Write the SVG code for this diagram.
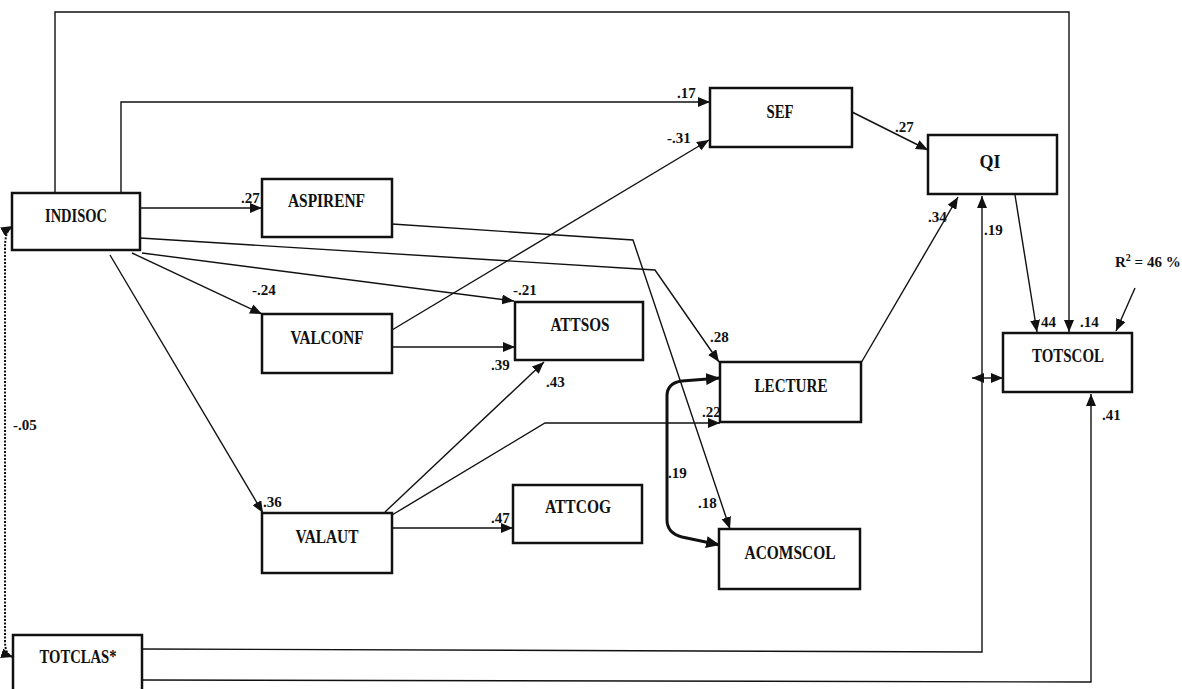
<svg xmlns="http://www.w3.org/2000/svg" width="1182" height="689" viewBox="0 0 1182 689">
<style>
.box{fill:#fff;stroke:#111;stroke-width:2.5}
.lbl{font-family:"Liberation Serif","Times New Roman",serif;font-weight:bold;font-size:19px;fill:#111;text-anchor:middle}
.num{font-family:"Liberation Serif","Times New Roman",serif;font-weight:bold;font-size:15px;fill:#111}
.c{fill:none;stroke:#111;stroke-width:1.4;marker-end:url(#ah)}
.n{fill:none;stroke:#111;stroke-width:1.4}
</style>
<defs>
<marker id="ah" viewBox="0 0 12 10" refX="12" refY="5" markerWidth="12" markerHeight="10" markerUnits="userSpaceOnUse" orient="auto-start-reverse"><path d="M0,0 L12,5 L0,10 z" fill="#111"/></marker>
<marker id="ahb" viewBox="0 0 14 12" refX="14" refY="6" markerWidth="14" markerHeight="12" markerUnits="userSpaceOnUse" orient="auto-start-reverse"><path d="M0,0 L14,6 L0,12 z" fill="#111"/></marker>
</defs>
<rect width="1182" height="689" fill="#fff"/>
<g id="connectors">
<path class="c" d="M55,193 V12 H1069 V332"/>
<path class="c" d="M121,193 V102 H710"/>
<path class="c" d="M140,208 H262"/>
<path class="c" d="M140,238 L655,270 L719,362"/>
<path class="c" d="M142,253 L514,301"/>
<path class="c" d="M132,253 L262,314"/>
<path class="c" d="M110,255 L263,513"/>
<path class="c" d="M392,224 L633,240 L730,529"/>
<path class="c" d="M392,330 L709,140"/>
<path class="c" d="M392,347 H515"/>
<path class="c" d="M385,512 L544,362"/>
<path class="c" d="M392,515 L545,423 H720"/>
<path class="c" d="M392,528 H513"/>
<path class="c" d="M852,112 L928,150"/>
<path class="c" d="M861,363 L958,197"/>
<path class="c" d="M1015,195 L1037,332"/>
<path class="c" d="M142,649 L982,652 V196"/>
<path class="c" d="M142,680 L1091,682 V394"/>
<path class="c" d="M972,378 H1003" style="marker-start:url(#ah)"/>
<path class="c" d="M1135,288 L1116,331"/>
<path d="M720,378 L682,381 Q667,383 667,396 V520 Q667,533 682,537 L720,545" fill="none" stroke="#111" stroke-width="3" marker-start="url(#ahb)" marker-end="url(#ahb)"/>
<path d="M13,226 C6,230 5,238 5,250 V640 C5,650 7,655 13,657" fill="none" stroke="#111" stroke-width="2" stroke-dasharray="2,1.5" marker-start="url(#ah)" marker-end="url(#ah)"/>
</g>
<g id="INDISOC"><rect class="box" x="12" y="193" width="128" height="57"/><text class="lbl" x="76" y="222" textLength="62" lengthAdjust="spacingAndGlyphs">INDISOC</text></g>
<g id="ASPIRENF"><rect class="box" x="262" y="179" width="130" height="58"/><text class="lbl" x="326.5" y="207" textLength="77" lengthAdjust="spacingAndGlyphs">ASPIRENF</text></g>
<g id="SEF"><rect class="box" x="710" y="88" width="142" height="59"/><text class="lbl" x="780" y="118" textLength="27" lengthAdjust="spacingAndGlyphs">SEF</text></g>
<g id="QI"><rect class="box" x="928" y="135" width="129" height="59"/><text class="lbl" x="990" y="168" textLength="21" lengthAdjust="spacingAndGlyphs">QI</text></g>
<g id="VALCONF"><rect class="box" x="262" y="314" width="130" height="59"/><text class="lbl" x="327" y="344" textLength="73" lengthAdjust="spacingAndGlyphs">VALCONF</text></g>
<g id="ATTSOS"><rect class="box" x="515" y="302" width="128" height="58"/><text class="lbl" x="580" y="331" textLength="59" lengthAdjust="spacingAndGlyphs">ATTSOS</text></g>
<g id="LECTURE"><rect class="box" x="720" y="362" width="141" height="60"/><text class="lbl" x="791" y="392" textLength="73" lengthAdjust="spacingAndGlyphs">LECTURE</text></g>
<g id="TOTSCOL"><rect class="box" x="1003" y="333" width="129" height="59"/><text class="lbl" x="1068" y="362" textLength="72" lengthAdjust="spacingAndGlyphs">TOTSCOL</text></g>
<g id="VALAUT"><rect class="box" x="262" y="513" width="130" height="60"/><text class="lbl" x="327" y="543" textLength="63" lengthAdjust="spacingAndGlyphs">VALAUT</text></g>
<g id="ATTCOG"><rect class="box" x="513" y="485" width="129" height="58"/><text class="lbl" x="578" y="513" textLength="66" lengthAdjust="spacingAndGlyphs">ATTCOG</text></g>
<g id="ACOMSCOL"><rect class="box" x="719" y="529" width="141" height="60"/><text class="lbl" x="790" y="559" textLength="91" lengthAdjust="spacingAndGlyphs">ACOMSCOL</text></g>
<g id="TOTCLAS"><rect class="box" x="13" y="635" width="129" height="60"/><text class="lbl" x="78" y="663" textLength="77" lengthAdjust="spacingAndGlyphs">TOTCLAS*</text></g>
<g id="labels">
<text class="num" x="241" y="203">.27</text>
<text class="num" x="677" y="98">.17</text>
<text class="num" x="667" y="143">-.31</text>
<text class="num" x="895" y="132">.27</text>
<text class="num" x="928" y="222">.34</text>
<text class="num" x="984" y="235">.19</text>
<text class="num" x="252" y="295">-.24</text>
<text class="num" x="513" y="295">-.21</text>
<text class="num" x="710" y="342">.28</text>
<text class="num" x="491" y="370">.39</text>
<text class="num" x="546" y="387">.43</text>
<text class="num" x="702" y="417">.22</text>
<text class="num" x="668" y="478">.19</text>
<text class="num" x="1041" y="327">44</text>
<text class="num" x="1080" y="327">.14</text>
<text class="num" x="1115" y="267">R<tspan dy="-6" font-size="10">2</tspan><tspan dy="6"> = 46 %</tspan></text>
<text class="num" x="1102" y="420">.41</text>
<text class="num" x="13" y="430">-.05</text>
<text class="num" x="263" y="507">.36</text>
<text class="num" x="491" y="523">.47</text>
<text class="num" x="698" y="508">.18</text>
</g>
</svg>
